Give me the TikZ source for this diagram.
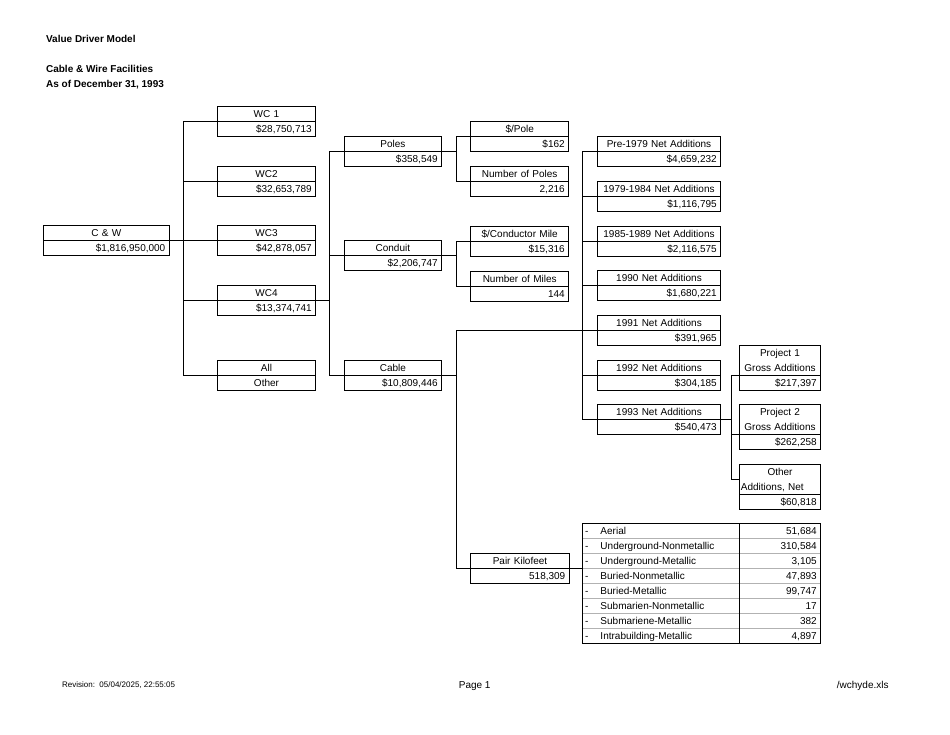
\documentclass[tikz,border=0pt]{standalone}
\usepackage{fontspec}
\setmainfont{Liberation Sans}
\newcommand\mkbox[6]{%
  \node[lab,text width=#4] (#1t) at (#2,#3) {#5};
  \node[val,text width=#4] (#1b) at (#1t.south west) {#6};}
\begin{document}
\begin{tikzpicture}[x=1pt,y=-1pt, line width=0.8pt,
  cell/.style={draw, anchor=north west, outer sep=0pt, minimum height=15pt,
    inner xsep=4pt, inner ysep=0pt, text height=7.2pt, text depth=0pt,
    font=\fontsize{10}{12}\selectfont},
  lab/.style={cell, align=center},
  val/.style={cell, align=right},
  ptop/.style={cell, align=center, text width=73.4pt, minimum height=30pt,
    text height=7.2pt, text depth=15pt,
    font=\fontsize{10}{15}\selectfont},
  tleft/.style={cell, draw=gray!60, align=left, text width=152pt, inner xsep=2.3pt},
  tright/.style={cell, draw=gray!60, align=right, text width=73.4pt},
  title/.style={anchor=west, inner sep=0pt, text height=7.2pt, text depth=0pt,
    font=\fontsize{10}{12}\selectfont\bfseries},
  foot/.style={inner sep=0pt, text height=5.8pt, text depth=0pt}
]
\fill[white] (0,0) rectangle (950,735);
\path[use as bounding box] (0,0) rectangle (950,735);

% titles
\node[title] (t1) at (45.7,39.3) {Value Driver Model};
\node[title] (t2) at (45.7,69.3) {Cable \& Wire Facilities};
\node[title] (t3) at (45.7,84.3) {As of December 31, 1993};

% trunk positions
\coordinate (T1) at (183.3,0);
\coordinate (T2) at (329.7,0);
\coordinate (T3) at (456.7,0);
\coordinate (T4) at (582.7,0);
\coordinate (T5) at (731,0);

% boxes
\mkbox{cw}{43.3}{225.7}{118pt}{C \& W}{\$1,816,950,000}
\mkbox{wca}{217.3}{106}{90.4pt}{WC 1}{\$28,750,713}
\mkbox{wcb}{217.3}{166}{90.4pt}{WC2}{\$32,653,789}
\mkbox{wcc}{217.3}{225.7}{90.4pt}{WC3}{\$42,878,057}
\mkbox{wcd}{217.3}{285}{90.4pt}{WC4}{\$13,374,741}
\node[lab,text width=90.4pt] (allt) at (217.3,360) {All};
\node[lab,text width=90.4pt] (allb) at (allt.south west) {Other};

\mkbox{poles}{344}{136.7}{89.7pt}{Poles}{\$358,549}
\mkbox{cond}{344}{240.7}{89.7pt}{Conduit}{\$2,206,747}
\mkbox{cable}{344}{360}{89.7pt}{Cable}{\$10,809,446}

\mkbox{ppole}{470.7}{121.7}{90pt}{\$/Pole}{\$162}
\mkbox{npole}{470.7}{166.7}{90pt}{Number of Poles}{2,216}
\mkbox{pcm}{470.7}{226}{90pt}{\$/Conductor Mile}{\$15,316}
\mkbox{nmil}{470.7}{271}{90pt}{Number of Miles}{144}
\mkbox{pkf}{470.7}{553.3}{90.6pt}{Pair Kilofeet}{518,309}

\mkbox{na}{597.3}{136}{115.4pt}{Pre-1979 Net Additions}{\$4,659,232}
\mkbox{nb}{597.3}{181}{115.4pt}{1979-1984 Net Additions}{\$1,116,795}
\mkbox{nc}{597.3}{226}{115.4pt}{1985-1989 Net Additions}{\$2,116,575}
\mkbox{nd}{597.3}{270.3}{115.4pt}{1990 Net Additions}{\$1,680,221}
\mkbox{ne}{597.3}{315.3}{115.4pt}{1991 Net Additions}{\$391,965}
\mkbox{nf}{597.3}{360}{115.4pt}{1992 Net Additions}{\$304,185}
\mkbox{ng}{597.3}{404.3}{115.4pt}{1993 Net Additions}{\$540,473}

\node[ptop] (pja) at (739.3,345) {Project 1\\Gross Additions};
\node[val,text width=73.4pt] (pjab) at (pja.south west) {\$217,397};
\node[ptop] (pjb) at (739.3,404.3) {Project 2\\Gross Additions};
\node[val,text width=73.4pt] (pjbb) at (pjb.south west) {\$262,258};
\node[ptop] (oth) at (739.3,464.3) {Other\\\makebox[73.4pt][l]{\hspace*{-2.4pt}Additions, Net}};
\node[val,text width=73.4pt] (othb) at (oth.south west) {\$60,818};

% table
\node[tleft] (tl1) at (582.7,523.3) {\makebox[15.5pt][l]{-}Aerial};
\node[tleft] (tl2) at (tl1.south west) {\makebox[15.5pt][l]{-}Underground-Nonmetallic};
\node[tleft] (tl3) at (tl2.south west) {\makebox[15.5pt][l]{-}Underground-Metallic};
\node[tleft] (tl4) at (tl3.south west) {\makebox[15.5pt][l]{-}Buried-Nonmetallic};
\node[tleft] (tl5) at (tl4.south west) {\makebox[15.5pt][l]{-}Buried-Metallic};
\node[tleft] (tl6) at (tl5.south west) {\makebox[15.5pt][l]{-}Submarien-Nonmetallic};
\node[tleft] (tl7) at (tl6.south west) {\makebox[15.5pt][l]{-}Submariene-Metallic};
\node[tleft] (tl8) at (tl7.south west) {\makebox[15.5pt][l]{-}Intrabuilding-Metallic};
\node[tright] (tr1) at (tl1.north east) {51,684};
\node[tright] (tr2) at (tl2.north east) {310,584};
\node[tright] (tr3) at (tl3.north east) {3,105};
\node[tright] (tr4) at (tl4.north east) {47,893};
\node[tright] (tr5) at (tl5.north east) {99,747};
\node[tright] (tr6) at (tl6.north east) {17};
\node[tright] (tr7) at (tl7.north east) {382};
\node[tright] (tr8) at (tl8.north east) {4,897};
\draw (tl1.north west) rectangle (tr8.south east);
\draw (tr1.north west) -- (tr8.south west);

% connectors
\draw (cwt.south east) -- (wcct.south west);
\draw (wcat.south west) -- (T1 |- wcat.south west) -- (T1 |- allt.south west) -- (allt.south west);
\draw (T1 |- wcbt.south west) -- (wcbt.south west);
\draw (T1 |- wcdt.south west) -- (wcdt.south west);
\draw (wcdt.south east) -- (T2 |- wcdt.south east);
\draw (polest.south west) -- (T2 |- polest.south west) -- (T2 |- cablet.south west) -- (cablet.south west);
\draw (T2 |- condt.south west) -- (condt.south west);
\draw (polest.south east) -- (T3 |- polest.south east);
\draw (ppolet.south west) -- (T3 |- ppolet.south west) -- (T3 |- npolet.south west) -- (npolet.south west);
\draw (condt.south east) -- (T3 |- condt.south east);
\draw (pcmt.south west) -- (T3 |- pcmt.south west) -- (T3 |- nmilt.south west) -- (nmilt.south west);
\draw (cablet.south east) -- (T3 |- cablet.south east);
\draw (net.south west) -- (T3 |- net.south west) -- (T3 |- pkft.south west) -- (pkft.south west);
\draw (pkft.south east) -- (tl4.north west);
\draw (nat.south west) -- (T4 |- nat.south west) -- (T4 |- ngt.south west) -- (ngt.south west);
\draw (T4 |- nbt.south west) -- (nbt.south west);
\draw (T4 |- nct.south west) -- (nct.south west);
\draw (T4 |- ndt.south west) -- (ndt.south west);
\draw (T4 |- nft.south west) -- (nft.south west);
\draw (ngt.south east) -- (T5 |- ngt.south east);
\draw (pja.south west) -- (T5 |- pja.south west) -- (T5 |- oth.west) -- (oth.west);
\draw (T5 |- pjb.south west) -- (pjb.south west);

% footer
\node[foot, anchor=west, font=\fontsize{8}{10}\selectfont] (rev) at (61.7,684.5) {Revision:\ \ 05/04/2025, 22:55:05};
\node[foot, text height=7.2pt, font=\fontsize{10}{12}\selectfont] (pg) at (474.7,684.8) {Page 1};
\node[foot, text height=7.2pt, anchor=east, font=\fontsize{10}{12}\selectfont] (fn) at (889,684.8) {/wchyde.xls};
\end{tikzpicture}
\end{document}
